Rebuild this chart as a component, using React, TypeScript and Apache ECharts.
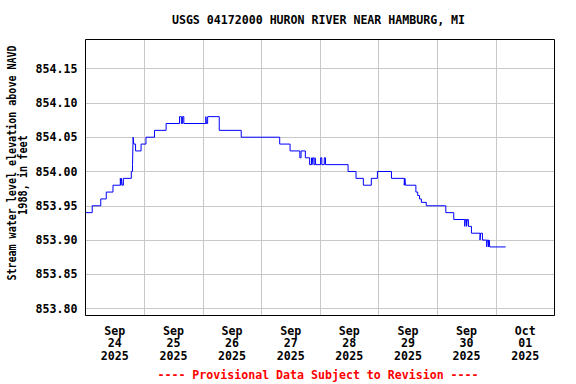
import React, { useEffect, useRef } from "react";
import * as echarts from "echarts";

const TITLE = "USGS 04172000 HURON RIVER NEAR HAMBURG, MI";
const Y_NAME_1 = "Stream water level elevation above NAVD";
const Y_NAME_2 = "1988, in feet";
const FOOTNOTE = "---- Provisional Data Subject to Revision ----";

const DAY_LABELS = [
  "Sep\n24\n2025",
  "Sep\n25\n2025",
  "Sep\n26\n2025",
  "Sep\n27\n2025",
  "Sep\n28\n2025",
  "Sep\n29\n2025",
  "Sep\n30\n2025",
  "Oct\n01\n2025",
];

const X_START = "2025-09-24 00:00";
const X_END = "2025-10-02 00:00";
const Y_MIN = 853.79;
const Y_MAX = 854.1925;

const TIMES = [
  "2025-09-24 00:00", "2025-09-24 02:45", "2025-09-24 06:15", "2025-09-24 08:30", "2025-09-24 11:15",
  "2025-09-24 14:15", "2025-09-24 14:30", "2025-09-24 14:45", "2025-09-24 15:00", "2025-09-24 15:30",
  "2025-09-24 18:45", "2025-09-24 19:15", "2025-09-24 19:30", "2025-09-24 19:45", "2025-09-24 20:30", "2025-09-24 22:45",
  "2025-09-25 00:45", "2025-09-25 04:15", "2025-09-25 09:00", "2025-09-25 14:30", "2025-09-25 15:15", "2025-09-25 15:45", "2025-09-25 16:15",
  "2025-09-26 01:15", "2025-09-26 01:30", "2025-09-26 02:00", "2025-09-26 06:45", "2025-09-26 15:45",
  "2025-09-27 07:30", "2025-09-27 11:45", "2025-09-27 15:45", "2025-09-27 16:15", "2025-09-27 18:00", "2025-09-27 19:45",
  "2025-09-27 20:30", "2025-09-27 20:45", "2025-09-27 21:00", "2025-09-27 21:30", "2025-09-27 22:00", "2025-09-27 22:15",
  "2025-09-28 00:15", "2025-09-28 00:45", "2025-09-28 01:45", "2025-09-28 02:15", "2025-09-28 11:30", "2025-09-28 14:45",
  "2025-09-28 17:45", "2025-09-28 21:00", "2025-09-28 23:30",
  "2025-09-29 05:15", "2025-09-29 10:30", "2025-09-29 10:45", "2025-09-29 11:00", "2025-09-29 15:15", "2025-09-29 16:00",
  "2025-09-29 16:45", "2025-09-29 17:30", "2025-09-29 19:30",
  "2025-09-30 03:30", "2025-09-30 06:45", "2025-09-30 11:15", "2025-09-30 11:30", "2025-09-30 12:00", "2025-09-30 12:15",
  "2025-09-30 12:45", "2025-09-30 14:00", "2025-09-30 17:30", "2025-09-30 17:45", "2025-09-30 18:30", "2025-09-30 20:15",
  "2025-09-30 20:30", "2025-09-30 21:00", "2025-09-30 21:15", "2025-09-30 21:30",
  "2025-10-01 04:00",
];

const LEVELS = [
  853.94, 853.95, 853.96, 853.97, 853.98,
  853.99, 853.98, 853.99, 853.98, 853.99,
  854.0, 854.01, 854.05, 854.04, 854.03, 854.04,
  854.05, 854.06, 854.07, 854.08, 854.07, 854.08, 854.07,
  854.08, 854.07, 854.08, 854.06, 854.05,
  854.04, 854.03, 854.02, 854.03, 854.02, 854.01,
  854.02, 854.01, 854.02, 854.01, 854.02, 854.01,
  854.02, 854.01, 854.02, 854.01, 854.0, 853.99,
  853.98, 853.99, 854.0,
  853.99, 853.98, 853.99, 853.98, 853.97, 853.965,
  853.96, 853.955, 853.95,
  853.94, 853.93, 853.92, 853.93, 853.92, 853.93,
  853.92, 853.91, 853.9, 853.91, 853.9, 853.89,
  853.9, 853.89, 853.9, 853.89,
  853.89,
];

const FONT = "DejaVu Sans Mono";

function toMs(s: string): number {
  const [d, t] = s.split(" ");
  const [y, m, day] = d.split("-").map(Number);
  const [hh, mm] = t.split(":").map(Number);
  return Date.UTC(y, m - 1, day, hh, mm);
}

export default function App() {
  const ref = useRef<HTMLDivElement>(null);

  useEffect(() => {
    if (!ref.current) return;
    const chart = echarts.init(ref.current, undefined, { renderer: "svg" });
    const data = TIMES.map((t, i) => [toMs(t), LEVELS[i]]);
    const textStyle = {
      fontFamily: FONT,
      fontWeight: "bold" as const,
      fontSize: 11.6,
      fill: "#000",
    };
    chart.setOption({
      animation: false,
      backgroundColor: "#fff",
      grid: {
        left: 85.5,
        top: 39.5,
        width: 469,
        height: 276,
        show: true,
        borderColor: "#000",
        borderWidth: 1,
        backgroundColor: "transparent",
        containLabel: false,
        z: 10,
      },
      xAxis: [
        {
          type: "value",
          min: toMs(X_START),
          max: toMs(X_END),
          interval: 86400000,
          axisLabel: { show: false },
          axisTick: { show: false },
          axisLine: { show: false },
          splitLine: { show: true, lineStyle: { color: "#c8c8c8", width: 1 } },
        },
        {
          type: "category",
          position: "bottom",
          data: DAY_LABELS,
          boundaryGap: true,
          axisTick: { show: false },
          axisLine: { show: false },
          splitLine: { show: false },
          axisLabel: {
            interval: 0,
            margin: 9,
            color: "#000",
            fontFamily: FONT,
            fontWeight: "bold",
            fontSize: 11.6,
            lineHeight: 12.5,
          },
        },
      ],
      yAxis: {
        type: "value",
        min: Y_MIN,
        max: Y_MAX,
        splitNumber: 8,
        axisLine: { show: false },
        axisTick: { show: false },
        splitLine: { show: true, lineStyle: { color: "#c8c8c8", width: 1 } },
        axisLabel: {
          margin: 8,
          color: "#000",
          fontFamily: FONT,
          fontWeight: "bold",
          fontSize: 11.6,
          formatter: (v: number) => {
            const k = v * 20;
            return Math.abs(k - Math.round(k)) < 1e-6 ? v.toFixed(2) : "";
          },
        },
      },
      series: [
        {
          type: "line",
          xAxisIndex: 0,
          step: "end",
          showSymbol: false,
          symbol: "none",
          data,
          lineStyle: { color: "#0000ff", width: 1 },
          itemStyle: { color: "#0000ff" },
        },
      ],
      graphic: [
        {
          type: "text",
          x: 318.5,
          y: 20,
          style: { ...textStyle, text: TITLE, align: "center", verticalAlign: "middle" },
        },
        {
          type: "text",
          x: 12.5,
          y: 163,
          rotation: Math.PI / 2,
          scaleX: 0.865,
          style: { ...textStyle, text: Y_NAME_1, align: "center", verticalAlign: "middle" },
        },
        {
          type: "text",
          x: 23.5,
          y: 175,
          rotation: Math.PI / 2,
          scaleX: 0.88,
          style: { ...textStyle, text: Y_NAME_2, align: "center", verticalAlign: "middle" },
        },
        {
          type: "text",
          x: 318,
          y: 374.5,
          style: { ...textStyle, fill: "#ff0000", text: FOOTNOTE, align: "center", verticalAlign: "middle" },
        },
      ],
    });
    return () => chart.dispose();
  }, []);

  return (
    <div
      ref={ref}
      style={{ position: "fixed", left: 0, top: 0, width: 576, height: 384 }}
    />
  );
}
